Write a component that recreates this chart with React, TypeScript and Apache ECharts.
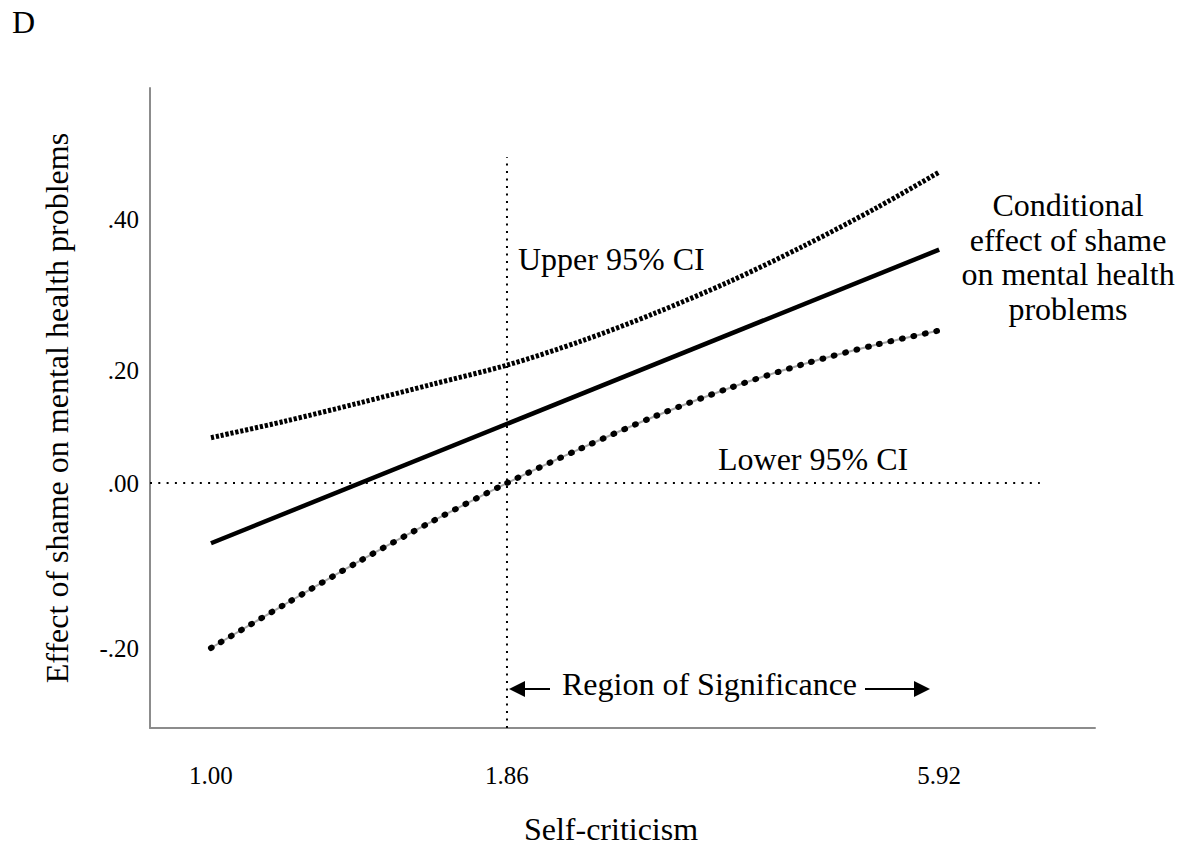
import React, { useEffect, useRef } from "react";
import * as echarts from "echarts";

// ---- tick labels (as printed in the figure) ----
const xLabelText = ["1.00", "1.86", "5.92"];
const xLabelAt = [1.0, 3.0, 5.92]; // drawn positions on the (schematic) self-criticism axis
const yLabelText = ["-.20", ".00", ".20", ".40"];
const yLabelAt = [-0.2, 0, 0.137, 0.32];

// ---- series values ----
const xSamples = [1.0, 1.5, 2.0, 2.5, 3.0, 3.5, 4.0, 4.5, 5.0, 5.5, 5.92];
const upperCI = [0.055, 0.075, 0.097, 0.12, 0.143, 0.172, 0.206, 0.244, 0.287, 0.334, 0.377];
const lowerCI = [-0.2, -0.147, -0.095, -0.046, 0.0, 0.042, 0.081, 0.115, 0.144, 0.168, 0.185];
const effectX = [1.0, 5.92];
const effectY = [-0.073, 0.283];

// reference lines
const jnX = 3.0; // Johnson-Neyman point (labelled 1.86)
const jnTop = 0.395;
const zeroLineEndX = 6.6;

const X_MIN = 0.588;
const X_MAX = 6.973;
const Y_MIN = -0.297;
const Y_MAX = 0.479;

const SERIF = "'Liberation Serif', 'Times New Roman', serif";

const pick = (vals: number[], texts: string[]) => (v: number) => {
  for (let i = 0; i < vals.length; i++) {
    if (Math.abs(vals[i] - v) < 1e-6) return texts[i];
  }
  return "";
};

export default function App() {
  const ref = useRef<HTMLDivElement>(null);

  useEffect(() => {
    if (!ref.current) return;
    const chart = echarts.init(ref.current, null, { renderer: "svg" });
    const pairs = (xs: number[], ys: number[]) => xs.map((x, i) => [x, ys[i]]);

    const option: any = {
      animation: false,
      backgroundColor: "#fff",
      grid: { left: 150, right: 87, top: 88, bottom: 119, containLabel: false },
      xAxis: {
        type: "value",
        min: X_MIN,
        max: X_MAX,
        name: "Self-criticism",
        nameLocation: "middle",
        nameGap: 85,
        nameTextStyle: {
          fontFamily: SERIF,
          fontSize: 32,
          color: "#000",
          padding: [0, 23, 0, 0],
        },
        axisLine: { show: true, onZero: false, lineStyle: { color: "#8c8c8c", width: 2 } },
        axisTick: { show: false },
        splitLine: { show: false },
        axisLabel: {
          customValues: xLabelAt,
          formatter: pick(xLabelAt, xLabelText),
          fontFamily: SERIF,
          fontSize: 25,
          color: "#000",
          margin: 35,
        },
      },
      yAxis: {
        type: "value",
        min: Y_MIN,
        max: Y_MAX,
        name: "Effect of shame on mental health problems",
        nameLocation: "middle",
        nameGap: 77,
        nameTextStyle: { fontFamily: SERIF, fontSize: 32, color: "#000" },
        axisLine: { show: true, onZero: false, lineStyle: { color: "#8c8c8c", width: 2 } },
        axisTick: { show: false },
        splitLine: { show: false },
        axisLabel: {
          customValues: yLabelAt,
          formatter: pick(yLabelAt, yLabelText),
          fontFamily: SERIF,
          fontSize: 25,
          color: "#000",
          margin: 11,
        },
      },
      series: [
        {
          type: "line",
          name: "Zero",
          silent: true,
          symbol: "none",
          data: [
            [X_MIN, 0],
            [zeroLineEndX, 0],
          ],
          lineStyle: { color: "#000", width: 2, type: [2, 6.3] },
        },
        {
          type: "line",
          name: "Johnson-Neyman",
          silent: true,
          symbol: "none",
          data: [
            [jnX, Y_MIN],
            [jnX, jnTop],
          ],
          lineStyle: { color: "#000", width: 2, type: [2, 5.5] },
        },
        {
          type: "line",
          name: "Lower connector",
          silent: true,
          symbol: "none",
          smooth: 0.3,
          data: pairs(xSamples, lowerCI),
          lineStyle: { color: "#a8a8a8", width: 2 },
        },
        {
          type: "line",
          name: "Lower 95% CI",
          silent: true,
          symbol: "none",
          smooth: 0.3,
          data: pairs(xSamples, lowerCI),
          lineStyle: { color: "#000", width: 6, type: [0.8, 10.9], cap: "round" },
        },
        {
          type: "line",
          name: "Upper 95% CI",
          silent: true,
          symbol: "none",
          smooth: 0.3,
          data: pairs(xSamples, upperCI),
          lineStyle: { color: "#000", width: 5, type: [3.2, 1.8] },
        },
        {
          type: "line",
          name: "Conditional effect",
          silent: true,
          symbol: "none",
          data: pairs(effectX, effectY),
          lineStyle: { color: "#000", width: 4.5 },
        },
      ],
      graphic: [
        {
          type: "text",
          x: 12,
          y: 22,
          style: { text: "D", fill: "#000", font: `32px ${SERIF}`, align: "left", verticalAlign: "middle" },
        },
        {
          type: "text",
          x: 518,
          y: 259,
          style: { text: "Upper 95% CI", fill: "#000", font: `32px ${SERIF}`, align: "left", verticalAlign: "middle" },
        },
        {
          type: "text",
          x: 718,
          y: 459,
          style: { text: "Lower 95% CI", fill: "#000", font: `32px ${SERIF}`, align: "left", verticalAlign: "middle" },
        },
        {
          type: "text",
          x: 562,
          y: 684,
          style: {
            text: "Region of Significance",
            fill: "#000",
            font: `32px ${SERIF}`,
            align: "left",
            verticalAlign: "middle",
          },
        },
        {
          type: "text",
          x: 1068,
          y: 188,
          style: {
            text: "Conditional\neffect of shame\non mental health\nproblems",
            fill: "#000",
            font: `32px ${SERIF}`,
            lineHeight: 34.5,
            align: "center",
            verticalAlign: "top",
          },
        },
        {
          type: "line",
          shape: { x1: 522, y1: 689, x2: 550, y2: 689 },
          style: { stroke: "#000", lineWidth: 2 },
        },
        {
          type: "polygon",
          shape: {
            points: [
              [509, 689],
              [525, 681],
              [525, 697],
            ],
          },
          style: { fill: "#000" },
        },
        {
          type: "line",
          shape: { x1: 865, y1: 689, x2: 916, y2: 689 },
          style: { stroke: "#000", lineWidth: 2 },
        },
        {
          type: "polygon",
          shape: {
            points: [
              [930, 689],
              [914, 681],
              [914, 697],
            ],
          },
          style: { fill: "#000" },
        },
      ],
    };

    chart.setOption(option);
    return () => chart.dispose();
  }, []);

  return (
    <div
      ref={ref}
      style={{ position: "fixed", left: 0, top: 0, width: 1182, height: 850, background: "#fff" }}
    />
  );
}
